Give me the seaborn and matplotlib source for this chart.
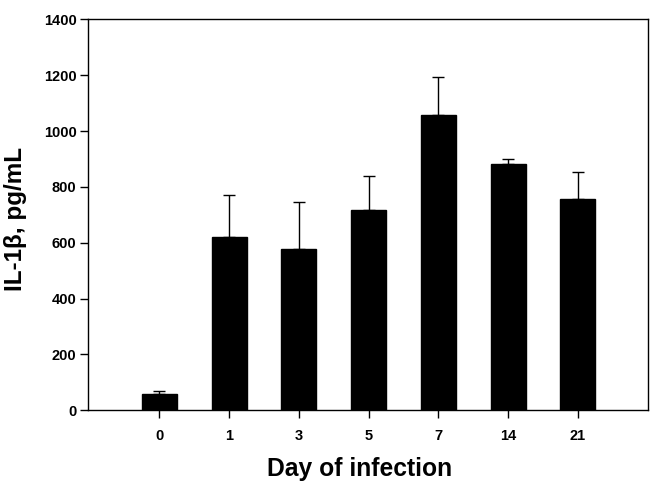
import matplotlib
matplotlib.use("Agg")
import matplotlib.pyplot as plt
import seaborn as sns
import numpy as np
import pandas as pd

days = ["0", "1", "3", "5", "7", "14", "21"]
values = [57, 621, 577, 717, 1057, 881, 755]
errors = [13, 150, 168, 123, 137, 19, 98]

sns.set_theme(style="white")
plt.rcParams['font.family'] = ['Liberation Sans', 'DejaVu Sans']
plt.rcParams['text.color'] = 'black'
plt.rcParams['axes.labelcolor'] = 'black'
plt.rcParams['xtick.color'] = 'black'
plt.rcParams['ytick.color'] = 'black'

df = pd.DataFrame({"day": days, "value": values})

fig = plt.figure(figsize=(6.57, 4.88), dpi=100)
ax = fig.add_axes([0.1344, 0.1592, 0.8514, 0.8013])

sns.barplot(data=df, x="day", y="value", order=days, color="black",
            width=0.5, errorbar=None, ax=ax, saturation=1)
for p in ax.patches:
    p.set_edgecolor("black")

xpos = np.arange(len(days))
ax.errorbar(xpos, values, yerr=[np.zeros(len(errors)), errors], fmt="none",
            ecolor="black", elinewidth=1.0, capsize=4.3, capthick=1.0)

ax.set_xlim(-1.02, 7.0)
ax.set_ylim(0, 1400)
ax.set_yticks(range(0, 1401, 200))
ax.set_xticks(xpos)
ax.set_xticklabels(days)

for s in ax.spines.values():
    s.set_visible(True)
    s.set_color("black")
    s.set_linewidth(1.0)

ax.tick_params(axis="both", direction="out", length=5.5, width=1, color="black",
               labelsize=10.5, bottom=True, left=True)
ax.tick_params(axis="x", pad=8)
ax.tick_params(axis="y", pad=3)
for lab in ax.get_xticklabels() + ax.get_yticklabels():
    lab.set_fontweight("bold")

ax.set_xlabel("Day of infection", fontsize=17.7, fontweight="bold")
ax.set_ylabel("IL-1β, pg/mL", fontsize=17.5, fontweight="bold")
ax.xaxis.set_label_coords(0.4857, -0.119)
ax.yaxis.set_label_coords(-0.1087, 0.488)

fig.savefig("out.png", dpi=100)
